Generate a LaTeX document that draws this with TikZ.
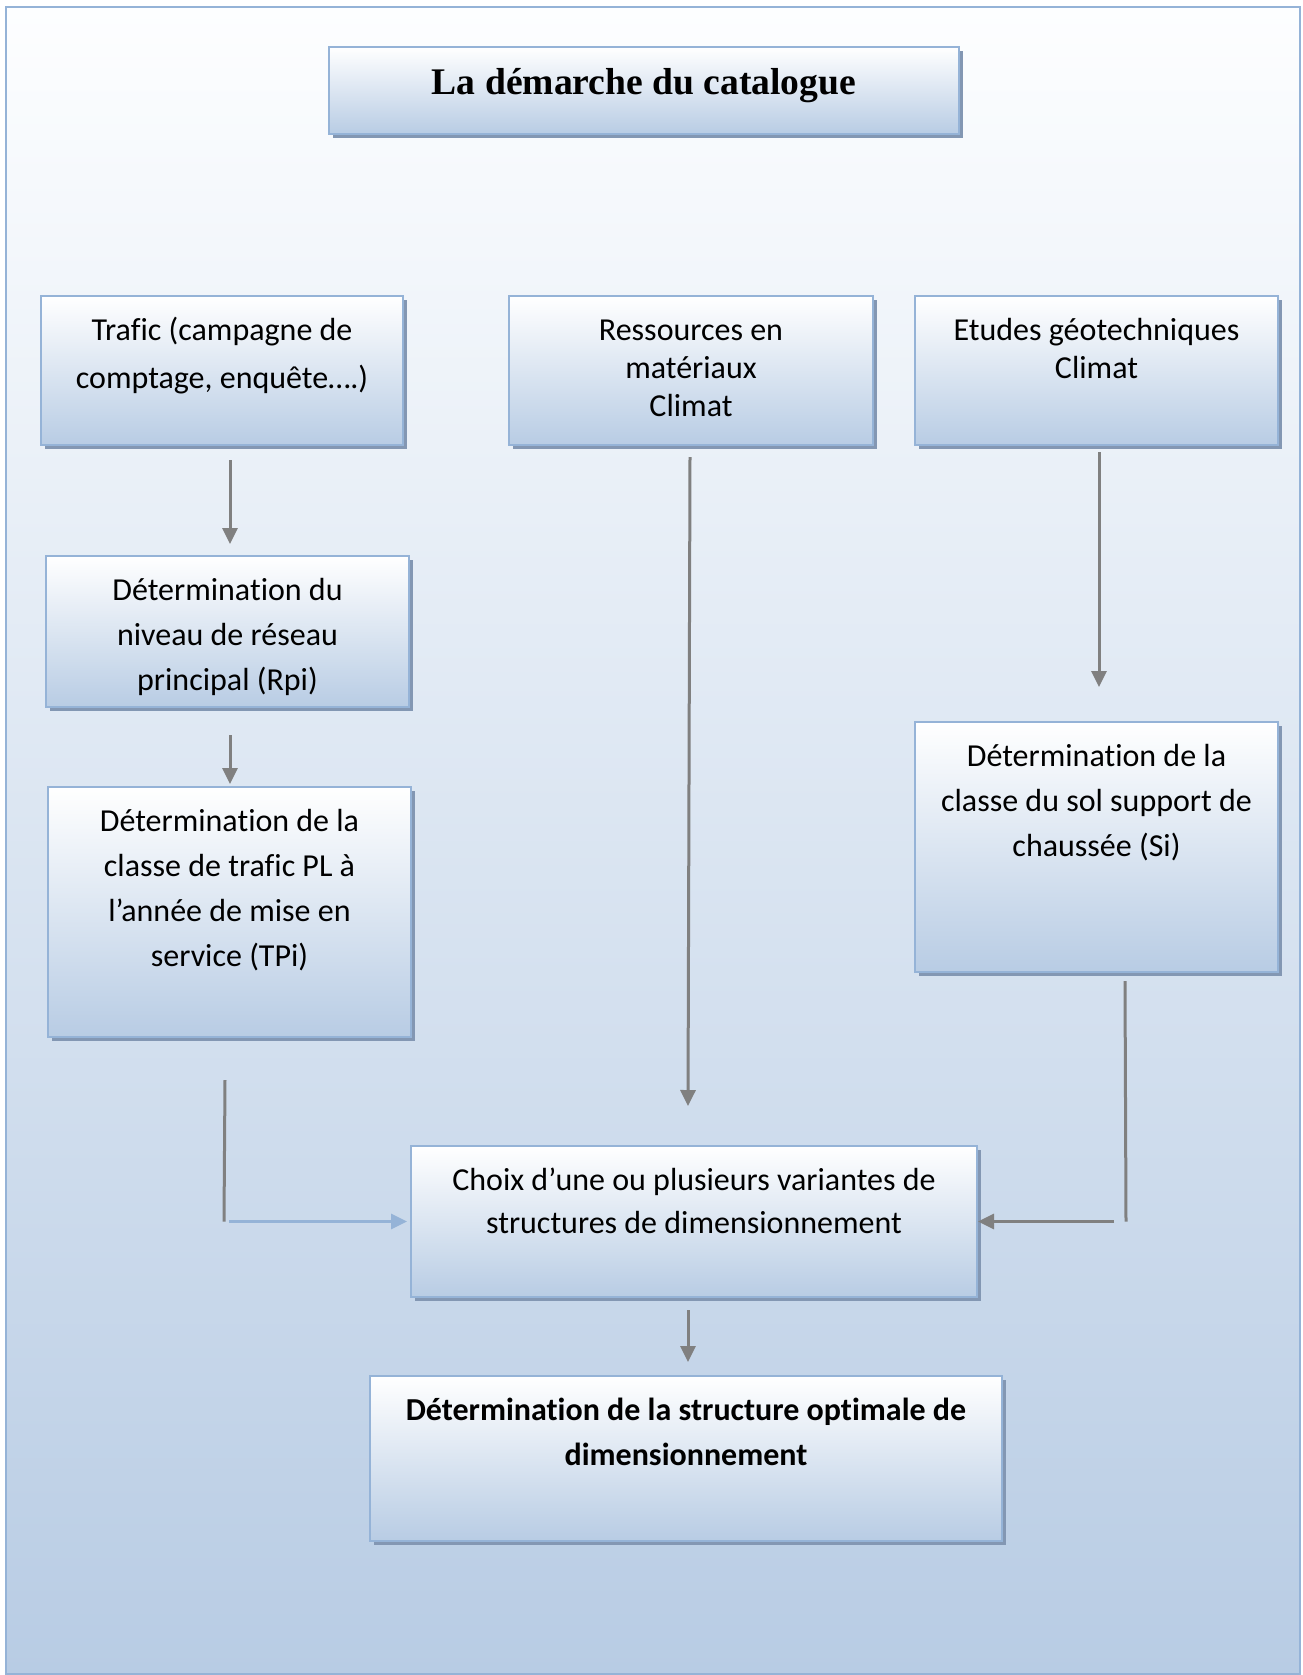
\documentclass[tikz,border=0pt]{standalone}
\usepackage{fontspec}
\setmainfont{Carlito}[Ligatures=NoCommon]
\newfontfamily\titlefont{Liberation Serif}
\usetikzlibrary{arrows.meta,shadows,calc}
\definecolor{bord}{HTML}{95B3D7}
\definecolor{boxbot}{HTML}{B8CCE4}
\definecolor{shad}{HTML}{8397B3}
\definecolor{gline}{HTML}{808080}
\definecolor{bgtop}{HTML}{FDFEFF}
\definecolor{bgbot}{HTML}{B8CCE4}
\newcommand{\fstrut}{\rule{0pt}{14pt}}
\begin{document}
\begin{tikzpicture}[x=0.5pt,y=-0.5pt,
  box/.style={draw=bord, line width=1pt, top color=white, bottom color=boxbot, inner sep=0pt,
    drop shadow={shadow xshift=2pt, shadow yshift=-2pt, fill=shad, opacity=1}},
  txt/.style={anchor=north, inner sep=0pt, align=center, font=\fontsize{16}{22.5}\selectfont},
  conn/.style={draw=gline, line width=1.5pt},
  arr/.style={conn, -{Triangle[length=8pt,width=7.5pt]}},
  barr/.style={draw=bord, line width=1.5pt, -{Triangle[length=8pt,width=7.5pt]}}]
\useasboundingbox (0,0) rectangle (1302,1675);
\path[draw=bord, line width=1pt, top color=bgtop, bottom color=bgbot] (6,7) rectangle (1300,1674);

\node[box, minimum width=315pt, minimum height=43.5pt] (title) at (644,90.5) {};
\node[box, minimum width=181pt, minimum height=74.5pt] (b1) at (222,370.5) {};
\node[box, minimum width=182pt, minimum height=74.5pt] (b2) at (691,370.5) {};
\node[box, minimum width=181.5pt, minimum height=74.5pt] (b3) at (1096.5,370.5) {};
\node[box, minimum width=181.5pt, minimum height=75.5pt] (b4) at (227.5,631.5) {};
\node[box, minimum width=181.5pt, minimum height=125pt] (b5) at (229.5,912) {};
\node[box, minimum width=181.5pt, minimum height=125pt] (b6) at (1096.5,847) {};
\node[box, minimum width=283pt, minimum height=75.5pt] (b7) at (694,1221.5) {};
\node[box, minimum width=316pt, minimum height=82.5pt] (b8) at (686,1458.5) {};

\node[anchor=center, inner sep=0pt, font=\titlefont\bfseries\fontsize{18.8}{22}\selectfont] (tt) at ($(title.center)+(0,-5)$) {La démarche du catalogue};
\node[txt, font=\fontsize{16}{24}\selectfont] (t1) at ($(b1.north)+(0,17)$) {\fstrut Trafic (campagne de\\comptage, enquête….)};
\node[txt, font=\fontsize{16}{19}\selectfont] (t2) at ($(b2.north)+(0,17)$) {\fstrut Ressources en\\matériaux\\Climat};
\node[txt, font=\fontsize{16}{19}\selectfont] (t3) at ($(b3.north)+(0,17)$) {\fstrut Etudes géotechniques\\Climat};
\node[txt] (t4) at ($(b4.north)+(0,17)$) {\fstrut Détermination du\\niveau de réseau\\principal (Rpi)};
\node[txt] (t5) at ($(b5.north)+(0,17)$) {\fstrut Détermination de la\\classe de trafic PL à\\l’année de mise en\\service (TPi)};
\node[txt] (t6) at ($(b6.north)+(0,17)$) {\fstrut Détermination de la\\classe du sol support de\\chaussée (Si)};
\node[txt, font=\fontsize{16}{21.5}\selectfont] (t7) at ($(b7.north)+(0,17)$) {\fstrut Choix d’une ou plusieurs variantes de\\structures de dimensionnement};
\node[txt, font=\bfseries\fontsize{16}{22.5}\selectfont] (t8) at ($(b8.north)+(0,17)$) {\fstrut Détermination de la structure optimale de\\dimensionnement};

\draw[arr] ($(b1.south)+(8,14)$) -- ($(b4.north)+(2.5,-11)$);
\draw[arr] ($(b4.south)+(2.5,27)$) -- ($(b5.north)+(0.5,-2)$);
\draw[arr] ($(b2.south)+(-1,11)$) -- ($(b7.north)+(-6,-39)$);
\draw[arr] ($(b3.south)+(2.5,6)$) -- ($(b6.north)+(2.5,-34)$);
\coordinate (j6) at ($(b7.east)+(148,0)$);
\draw[conn] ($(b6.south)+(28.5,8)$) -- (j6);
\draw[arr] ($(j6)+(-12,0)$) -- (b7.east);
\coordinate (j5) at ($(b7.west)+(-186,0)$);
\draw[conn] ($(b5.south)+(-4.5,42)$) -- (j5);
\draw[barr] ($(j5)+(5,0)$) -- ($(b7.west)+(-3,0)$);
\draw[arr] ($(b7.south)+(-6,12)$) -- ($(b8.north)+(2,-13)$);
\end{tikzpicture}
\end{document}
